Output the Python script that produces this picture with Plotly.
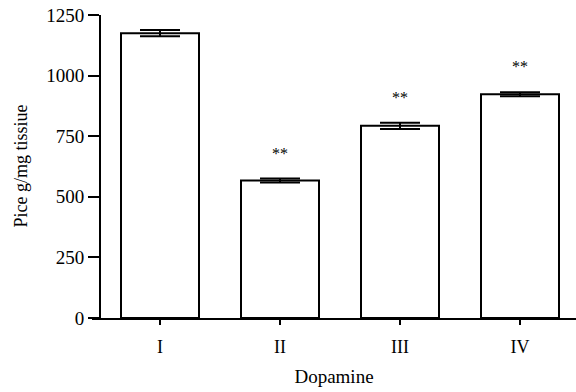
import plotly.graph_objects as go

categories = ["I", "II", "III", "IV"]
values = [1175, 567, 793, 923]
errors = [13, 8, 13, 8]
significance = ["", "**", "**", "**"]
y_ticks = [0, 250, 500, 750, 1000, 1250]

FONT = "Liberation Serif"
xpos = list(range(len(categories)))

fig = go.Figure()
fig.add_trace(go.Bar(
    x=xpos, y=values, width=0.65,
    marker=dict(color="white", line=dict(color="black", width=2)),
    error_y=dict(type="data", array=errors, visible=True, color="black",
                 thickness=2, width=20),
    showlegend=False, hoverinfo="skip",
))

for xi, v, e, s in zip(xpos, values, errors, significance):
    if s:
        fig.add_annotation(x=xi, y=v + e, text=s, showarrow=False,
                           yanchor="bottom", yshift=15,
                           font=dict(family=FONT, size=16, color="black"))

W, H = 576, 392
l, r, t, b = 92, 0, 15, 74
plot_w = W - l - r

# y-axis title as a rotated annotation for precise placement
fig.add_annotation(text="Pice g/mg tissiue", xref="paper", yref="paper",
                   x=0, y=0.5, xshift=-(l - 20), showarrow=False, textangle=-90,
                   xanchor="center", yanchor="middle",
                   font=dict(family=FONT, size=18, color="black"))

fig.update_layout(
    width=W, height=H,
    margin=dict(l=l, r=r, t=t, b=b),
    plot_bgcolor="white", paper_bgcolor="white",
    font=dict(family=FONT, color="black"),
    xaxis=dict(
        range=[-(160 - l) / 120, -(160 - l) / 120 + plot_w / 120],
        tickvals=xpos, ticktext=categories,
        showline=True, linecolor="black", linewidth=2,
        ticks="outside", ticklen=5, tickwidth=2, tickcolor="black",
        showgrid=False, zeroline=False, automargin=False,
        tickfont=dict(family=FONT, size=18),
        ticklabelstandoff=6,
        title=dict(text="Dopamine", font=dict(family=FONT, size=19), standoff=14),
    ),
    yaxis=dict(
        range=[0, 1250],
        tickvals=y_ticks,
        anchor="free", position=(100 - l) / plot_w,
        showline=True, linecolor="black", linewidth=2,
        ticks="outside", ticklen=11, tickwidth=2, tickcolor="black",
        showgrid=False, zeroline=False, automargin=False,
        tickfont=dict(family=FONT, size=19),
    ),
)

fig.write_html("out.html", config={"displayModeBar": False},
               post_script="document.body.style.margin='0';document.body.style.overflow='hidden';")
